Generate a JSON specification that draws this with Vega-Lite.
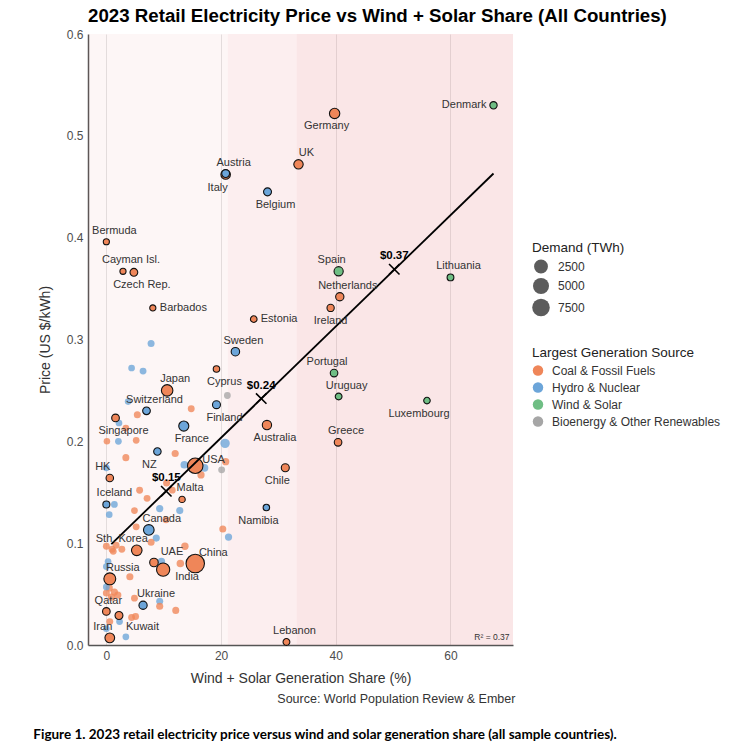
{
  "$schema": "https://vega.github.io/schema/vega-lite/v6.json",
  "background": "white",
  "padding": {"left": 33, "top": 7, "right": 5, "bottom": 5},
  "config": {
    "font": "Liberation Sans",
    "view": {"stroke": null},
    "axis": {
      "labelFont": "Liberation Sans",
      "labelFontSize": 12,
      "labelColor": "#4d4d4d",
      "titleFont": "Liberation Sans",
      "titleFontSize": 14,
      "titleFontWeight": "normal",
      "titleColor": "#333333",
      "ticks": false,
      "domainColor": "#555555",
      "domainWidth": 1.5,
      "gridColor": "#dddddd",
      "gridWidth": 0.8,
      "labelPadding": 5
    },
    "legend": {
      "titleFont": "Liberation Sans",
      "titleFontSize": 13.5,
      "titleFontWeight": "normal",
      "titleColor": "#222222",
      "labelFont": "Liberation Sans",
      "labelFontSize": 12,
      "labelColor": "#333333",
      "labelLimit": 300
    }
  },
  "datasets": {
    "bands": [
      {"share": -3.2, "share_end": 21.2, "band": "low"},
      {"share": 21.2, "share_end": 33.2, "band": "mid"},
      {"share": 33.2, "share_end": 70.9, "band": "high"}
    ],
    "fit": [
      {"share": 0.87, "price": 0.099},
      {"share": 67.5, "price": 0.463}
    ],
    "steps": [
      {"share": 10.45, "price": 0.151, "label": "$0.15"},
      {"share": 27.0, "price": 0.242, "label": "$0.24"},
      {"share": 50.2, "price": 0.369, "label": "$0.37"}
    ],
    "note": [
      {"share": 70.3, "price": 0.003, "label": "R² = 0.37"}
    ],
    "countries": [
      {"share": 7.8, "price": 0.296, "demand": 20, "source": "Hydro & Nuclear"},
      {"share": 4.4, "price": 0.272, "demand": 10, "source": "Hydro & Nuclear"},
      {"share": 6.4, "price": 0.269, "demand": 15, "source": "Hydro & Nuclear"},
      {"share": 21.1, "price": 0.245, "demand": 12, "source": "Bioenergy & Other Renewables"},
      {"share": 14.8, "price": 0.232, "demand": 15, "source": "Coal & Fossil Fuels"},
      {"share": 3.8, "price": 0.239, "demand": 8, "source": "Hydro & Nuclear"},
      {"share": 5.4, "price": 0.226, "demand": 20, "source": "Coal & Fossil Fuels"},
      {"share": 2.2, "price": 0.218, "demand": 10, "source": "Hydro & Nuclear"},
      {"share": 3.4, "price": 0.213, "demand": 12, "source": "Coal & Fossil Fuels"},
      {"share": 0.1, "price": 0.2, "demand": 5, "source": "Coal & Fossil Fuels"},
      {"share": 2.1, "price": 0.2, "demand": 10, "source": "Hydro & Nuclear"},
      {"share": 5.2, "price": 0.201, "demand": 10, "source": "Coal & Fossil Fuels"},
      {"share": 20.7, "price": 0.198, "demand": 300, "source": "Hydro & Nuclear"},
      {"share": 12.0, "price": 0.188, "demand": 25, "source": "Coal & Fossil Fuels"},
      {"share": 3.4, "price": 0.184, "demand": 20, "source": "Coal & Fossil Fuels"},
      {"share": 0.0, "price": 0.174, "demand": 10, "source": "Hydro & Nuclear"},
      {"share": 13.6, "price": 0.177, "demand": 60, "source": "Hydro & Nuclear"},
      {"share": 17.1, "price": 0.174, "demand": 70, "source": "Hydro & Nuclear"},
      {"share": 20.8, "price": 0.18, "demand": 30, "source": "Coal & Fossil Fuels"},
      {"share": 20.1, "price": 0.172, "demand": 15, "source": "Bioenergy & Other Renewables"},
      {"share": 16.5, "price": 0.167, "demand": 30, "source": "Coal & Fossil Fuels"},
      {"share": 10.5, "price": 0.159, "demand": 20, "source": "Coal & Fossil Fuels"},
      {"share": 5.8, "price": 0.152, "demand": 15, "source": "Coal & Fossil Fuels"},
      {"share": 7.1, "price": 0.144, "demand": 15, "source": "Coal & Fossil Fuels"},
      {"share": 11.5, "price": 0.152, "demand": 10, "source": "Coal & Fossil Fuels"},
      {"share": 1.4, "price": 0.138, "demand": 12, "source": "Hydro & Nuclear"},
      {"share": 0.5, "price": 0.128, "demand": 8, "source": "Hydro & Nuclear"},
      {"share": 4.9, "price": 0.132, "demand": 10, "source": "Coal & Fossil Fuels"},
      {"share": 9.3, "price": 0.134, "demand": 30, "source": "Hydro & Nuclear"},
      {"share": 12.8, "price": 0.132, "demand": 25, "source": "Hydro & Nuclear"},
      {"share": 10.4, "price": 0.123, "demand": 15, "source": "Coal & Fossil Fuels"},
      {"share": 20.3, "price": 0.114, "demand": 20, "source": "Coal & Fossil Fuels"},
      {"share": 21.3, "price": 0.106, "demand": 30, "source": "Hydro & Nuclear"},
      {"share": 13.7, "price": 0.097, "demand": 40, "source": "Coal & Fossil Fuels"},
      {"share": 12.9, "price": 0.08, "demand": 50, "source": "Coal & Fossil Fuels"},
      {"share": 14.5, "price": 0.082, "demand": 30, "source": "Hydro & Nuclear"},
      {"share": 16.2, "price": 0.077, "demand": 60, "source": "Coal & Fossil Fuels"},
      {"share": 8.7, "price": 0.105, "demand": 25, "source": "Hydro & Nuclear"},
      {"share": 7.8, "price": 0.101, "demand": 20, "source": "Coal & Fossil Fuels"},
      {"share": 9.6, "price": 0.082, "demand": 40, "source": "Hydro & Nuclear"},
      {"share": 1.0, "price": 0.094, "demand": 20, "source": "Coal & Fossil Fuels"},
      {"share": 2.7, "price": 0.094, "demand": 15, "source": "Coal & Fossil Fuels"},
      {"share": 0.0, "price": 0.097, "demand": 15, "source": "Coal & Fossil Fuels"},
      {"share": 0.3, "price": 0.082, "demand": 10, "source": "Hydro & Nuclear"},
      {"share": 4.1, "price": 0.067, "demand": 25, "source": "Coal & Fossil Fuels"},
      {"share": 0.5, "price": 0.056, "demand": 30, "source": "Coal & Fossil Fuels"},
      {"share": 1.4, "price": 0.052, "demand": 30, "source": "Coal & Fossil Fuels"},
      {"share": 0.9, "price": 0.047, "demand": 40, "source": "Coal & Fossil Fuels"},
      {"share": 2.0, "price": 0.049, "demand": 25, "source": "Coal & Fossil Fuels"},
      {"share": 0.0, "price": 0.051, "demand": 20, "source": "Coal & Fossil Fuels"},
      {"share": 0.0, "price": 0.057, "demand": 10, "source": "Hydro & Nuclear"},
      {"share": 4.9, "price": 0.046, "demand": 15, "source": "Coal & Fossil Fuels"},
      {"share": 9.3, "price": 0.043, "demand": 20, "source": "Hydro & Nuclear"},
      {"share": 9.3, "price": 0.038, "demand": 25, "source": "Coal & Fossil Fuels"},
      {"share": 12.1, "price": 0.034, "demand": 20, "source": "Coal & Fossil Fuels"},
      {"share": 4.4, "price": 0.027, "demand": 15, "source": "Coal & Fossil Fuels"},
      {"share": 5.1, "price": 0.028, "demand": 15, "source": "Coal & Fossil Fuels"},
      {"share": 2.3, "price": 0.023, "demand": 10, "source": "Hydro & Nuclear"},
      {"share": 3.4, "price": 0.008, "demand": 10, "source": "Hydro & Nuclear"},
      {"share": 0.0, "price": 0.016, "demand": 8, "source": "Hydro & Nuclear"},
      {"share": 0.0, "price": 0.077, "demand": 10, "source": "Hydro & Nuclear"},
      {"share": 5.2, "price": 0.116, "demand": 15, "source": "Coal & Fossil Fuels"},
      {"share": 0.6, "price": 0.023, "demand": 15, "source": "Coal & Fossil Fuels"},
      {"share": 1.2, "price": 0.092, "demand": 15, "source": "Coal & Fossil Fuels"},
      {"share": 1.7, "price": 0.098, "demand": 15, "source": "Coal & Fossil Fuels"},
      {"country": "Denmark", "share": 67.5, "price": 0.53, "demand": 35, "source": "Wind & Solar", "pos": "l"},
      {"country": "Germany", "share": 39.8, "price": 0.522, "demand": 525, "source": "Coal & Fossil Fuels", "pos": "bl"},
      {"country": "UK", "share": 33.5, "price": 0.472, "demand": 290, "source": "Coal & Fossil Fuels", "pos": "tr"},
      {"country": "Italy", "share": 20.8, "price": 0.462, "demand": 315, "source": "Coal & Fossil Fuels", "pos": "bl"},
      {"country": "Austria", "share": 20.8, "price": 0.463, "demand": 72, "source": "Hydro & Nuclear", "pos": "tr"},
      {"country": "Belgium", "share": 28.1, "price": 0.445, "demand": 82, "source": "Hydro & Nuclear", "pos": "br"},
      {"country": "Bermuda", "share": 0.0, "price": 0.396, "demand": 0.6, "source": "Coal & Fossil Fuels", "pos": "tr"},
      {"country": "Cayman Isl.", "share": 2.9, "price": 0.367, "demand": 0.7, "source": "Coal & Fossil Fuels", "pos": "tr"},
      {"country": "Czech Rep.", "share": 4.8, "price": 0.366, "demand": 65, "source": "Coal & Fossil Fuels", "pos": "br"},
      {"country": "Barbados", "share": 8.1, "price": 0.331, "demand": 1, "source": "Coal & Fossil Fuels", "pos": "r"},
      {"country": "Estonia", "share": 25.7, "price": 0.32, "demand": 8.5, "source": "Coal & Fossil Fuels", "pos": "r"},
      {"country": "Sweden", "share": 22.5, "price": 0.288, "demand": 135, "source": "Hydro & Nuclear", "pos": "tr"},
      {"country": "Cyprus", "share": 19.2, "price": 0.271, "demand": 5, "source": "Coal & Fossil Fuels", "pos": "br"},
      {"country": "Japan", "share": 10.6, "price": 0.25, "demand": 950, "source": "Coal & Fossil Fuels", "pos": "tr"},
      {"country": "Switzerland", "share": 7.0, "price": 0.23, "demand": 60, "source": "Hydro & Nuclear", "pos": "tr"},
      {"country": "Finland", "share": 19.2, "price": 0.236, "demand": 83, "source": "Hydro & Nuclear", "pos": "br"},
      {"country": "Singapore", "share": 1.6, "price": 0.223, "demand": 57, "source": "Coal & Fossil Fuels", "pos": "br"},
      {"country": "France", "share": 13.5, "price": 0.215, "demand": 450, "source": "Hydro & Nuclear", "pos": "br"},
      {"country": "Australia", "share": 28.0, "price": 0.216, "demand": 265, "source": "Coal & Fossil Fuels", "pos": "br"},
      {"country": "Greece", "share": 40.4, "price": 0.199, "demand": 53, "source": "Coal & Fossil Fuels", "pos": "tr"},
      {"country": "Luxembourg", "share": 55.9, "price": 0.24, "demand": 6.5, "source": "Wind & Solar", "pos": "bl"},
      {"country": "Uruguay", "share": 40.5, "price": 0.244, "demand": 12, "source": "Wind & Solar", "pos": "tr"},
      {"country": "Portugal", "share": 39.7, "price": 0.267, "demand": 51, "source": "Wind & Solar", "pos": "tl"},
      {"country": "Spain", "share": 40.5, "price": 0.367, "demand": 250, "source": "Wind & Solar", "pos": "tl"},
      {"country": "Netherlands", "share": 40.7, "price": 0.342, "demand": 115, "source": "Coal & Fossil Fuels", "pos": "tr"},
      {"country": "Ireland", "share": 39.1, "price": 0.331, "demand": 33, "source": "Coal & Fossil Fuels", "pos": "b"},
      {"country": "Lithuania", "share": 60.0, "price": 0.361, "demand": 13, "source": "Wind & Solar", "pos": "tr"},
      {"country": "Chile", "share": 31.2, "price": 0.174, "demand": 87, "source": "Coal & Fossil Fuels", "pos": "bl"},
      {"country": "Namibia", "share": 27.9, "price": 0.135, "demand": 4.5, "source": "Hydro & Nuclear", "pos": "bl"},
      {"country": "Lebanon", "share": 31.4, "price": 0.003, "demand": 14, "source": "Coal & Fossil Fuels", "pos": "tr"},
      {"country": "USA", "share": 15.5, "price": 0.176, "demand": 4250, "source": "Coal & Fossil Fuels", "pos": "ur"},
      {"country": "NZ", "share": 8.9, "price": 0.19, "demand": 44, "source": "Hydro & Nuclear", "pos": "bl"},
      {"country": "HK", "share": 0.6, "price": 0.164, "demand": 46, "source": "Coal & Fossil Fuels", "pos": "tl"},
      {"country": "Malta", "share": 13.2, "price": 0.143, "demand": 3, "source": "Coal & Fossil Fuels", "pos": "tr"},
      {"country": "Iceland", "share": 0.0, "price": 0.138, "demand": 20, "source": "Hydro & Nuclear", "pos": "tr"},
      {"country": "Canada", "share": 7.4, "price": 0.113, "demand": 615, "source": "Hydro & Nuclear", "pos": "tr2"},
      {"country": "Sth. Korea", "share": 5.3, "price": 0.093, "demand": 600, "source": "Coal & Fossil Fuels", "pos": "tl2"},
      {"country": "UAE", "share": 8.3, "price": 0.081, "demand": 150, "source": "Coal & Fossil Fuels", "pos": "tr3"},
      {"country": "China", "share": 15.5, "price": 0.08, "demand": 9400, "source": "Coal & Fossil Fuels", "pos": "tr3"},
      {"country": "India", "share": 9.9, "price": 0.074, "demand": 1950, "source": "Coal & Fossil Fuels", "pos": "rr"},
      {"country": "Russia", "share": 0.6, "price": 0.065, "demand": 1150, "source": "Coal & Fossil Fuels", "pos": "tr2"},
      {"country": "Ukraine", "share": 6.4, "price": 0.039, "demand": 110, "source": "Hydro & Nuclear", "pos": "tr2"},
      {"country": "Qatar", "share": 0.0, "price": 0.033, "demand": 55, "source": "Coal & Fossil Fuels", "pos": "t"},
      {"country": "Kuwait", "share": 2.2, "price": 0.029, "demand": 78, "source": "Coal & Fossil Fuels", "pos": "dr"},
      {"country": "Iran", "share": 0.6, "price": 0.007, "demand": 360, "source": "Coal & Fossil Fuels", "pos": "tl"}
    ]
  },
  "title": {
    "text": "Figure 1. 2023 retail electricity price versus wind and solar generation share (all sample countries).",
    "orient": "bottom",
    "anchor": "start",
    "frame": "bounds",
    "font": "Lato",
    "fontWeight": "bold",
    "fontSize": 13.5,
    "color": "#000000",
    "offset": 22,
    "dx": -5
  },
  "resolve": {"legend": {"color": "independent", "size": "independent"}},
  "vconcat": [
    {
      "title": {
        "text": "Source: World Population Review & Ember",
        "orient": "bottom",
        "anchor": "start",
        "frame": "bounds",
        "font": "Liberation Sans",
        "fontWeight": "normal",
        "fontSize": 12.5,
        "color": "#333333",
        "offset": 8,
        "dx": 239
      },
      "resolve": {"legend": {"color": "independent", "size": "independent"}},
      "vconcat": [
        {
          "title": {
            "text": "2023 Retail Electricity Price vs Wind + Solar Share (All Countries)",
            "font": "Liberation Sans",
            "fontWeight": "bold",
            "fontSize": 18.7,
            "color": "#000000",
            "anchor": "start",
            "frame": "group",
            "offset": 2
          },
          "width": 425,
          "height": 611,
          "layer": [
            {
              "data": {"name": "bands"},
              "mark": {"type": "rect", "fill": "#E3636B"},
              "encoding": {
                "x": {
                  "field": "share",
                  "type": "quantitative",
                  "scale": {"domain": [-3.2, 70.9], "nice": false, "zero": false},
                  "axis": {"values": [0, 20, 40, 60], "title": "Wind + Solar Generation Share (%)", "titlePadding": 10}
                },
                "x2": {"field": "share_end"},
                "y": {
                  "datum": 0,
                  "type": "quantitative",
                  "scale": {"domain": [0, 0.6], "nice": false, "zero": false},
                  "axis": {"values": [0, 0.1, 0.2, 0.3, 0.4, 0.5, 0.6], "format": ".1f", "title": "Price (US $/kWh)", "titlePadding": 14}
                },
                "y2": {"datum": 0.6},
                "opacity": {
                  "field": "band",
                  "type": "nominal",
                  "scale": {"domain": ["low", "mid", "high"], "range": [0.06, 0.16, 0.3]},
                  "legend": null
                }
              }
            },
            {
              "data": {"name": "countries"},
              "transform": [{"filter": "!datum.country"}],
              "mark": {"type": "circle", "opacity": 0.78},
              "encoding": {
                "x": {"field": "share", "type": "quantitative"},
                "y": {"field": "price", "type": "quantitative"},
                "color": {
                  "field": "source",
                  "type": "nominal",
                  "title": "Largest Generation Source",
                  "scale": {
                    "domain": ["Coal & Fossil Fuels", "Hydro & Nuclear", "Wind & Solar", "Bioenergy & Other Renewables"],
                    "range": ["#EF8659", "#6CA5D9", "#6FBE84", "#A6A6A6"]
                  },
                  "legend": {
                    "orient": "none", "legendX": 444, "legendY": 312,
                    "symbolType": "circle", "symbolSize": 110, "symbolStrokeWidth": 0, "symbolOpacity": 1,
                    "rowPadding": 5, "labelOffset": 8
                  }
                },
                "size": {
                  "field": "demand",
                  "type": "quantitative",
                  "title": "Demand (TWh)",
                  "scale": {"type": "sqrt", "domain": [0, 9400], "range": [35, 340]},
                  "legend": {
                    "orient": "none", "legendX": 444, "legendY": 207,
                    "values": [2500, 5000, 7500], "format": "d",
                    "symbolFillColor": "#5c5c5c", "symbolStrokeColor": "#5c5c5c", "symbolStrokeWidth": 0, "symbolOpacity": 1,
                    "rowPadding": 4, "labelOffset": 8
                  }
                }
              }
            },
            {
              "data": {"name": "countries"},
              "transform": [{"filter": "datum.country"}],
              "mark": {"type": "circle", "opacity": 1, "stroke": "#111111", "strokeWidth": 1.1},
              "encoding": {
                "x": {"field": "share", "type": "quantitative"},
                "y": {"field": "price", "type": "quantitative"},
                "color": {
                  "field": "source",
                  "type": "nominal",
                  "title": "Largest Generation Source",
                  "legend": {
                    "orient": "none", "legendX": 444, "legendY": 312,
                    "symbolType": "circle", "symbolSize": 110, "symbolStrokeWidth": 0, "symbolOpacity": 1,
                    "rowPadding": 5, "labelOffset": 8
                  }
                },
                "size": {
                  "field": "demand",
                  "type": "quantitative",
                  "title": "Demand (TWh)",
                  "legend": {
                    "orient": "none", "legendX": 444, "legendY": 207,
                    "values": [2500, 5000, 7500], "format": "d",
                    "symbolFillColor": "#5c5c5c", "symbolStrokeColor": "#5c5c5c", "symbolStrokeWidth": 0, "symbolOpacity": 1,
                    "rowPadding": 4, "labelOffset": 8
                  }
                }
              }
            },
            {
              "data": {"name": "fit"},
              "mark": {"type": "line", "color": "#000000", "strokeWidth": 1.8},
              "encoding": {
                "x": {"field": "share", "type": "quantitative"},
                "y": {"field": "price", "type": "quantitative"}
              }
            },
            {
              "data": {"name": "steps"},
              "mark": {"type": "point", "shape": "M-1,-1L1,1M-1,1L1,-1", "filled": false, "stroke": "#000000", "strokeWidth": 1.6, "size": 110, "opacity": 1},
              "encoding": {
                "x": {"field": "share", "type": "quantitative"},
                "y": {"field": "price", "type": "quantitative"}
              }
            },
            {
              "data": {"name": "steps"},
              "mark": {"type": "text", "fontWeight": "bold", "fontSize": 11.5, "color": "#000000", "dy": -13},
              "encoding": {
                "x": {"field": "share", "type": "quantitative"},
                "y": {"field": "price", "type": "quantitative"},
                "text": {"field": "label"}
              }
            },
            {
              "data": {"name": "note"},
              "mark": {"type": "text", "fontSize": 8.5, "color": "#333333", "align": "right", "baseline": "bottom"},
              "encoding": {
                "x": {"field": "share", "type": "quantitative"},
                "y": {"field": "price", "type": "quantitative"},
                "text": {"field": "label"}
              }
            },
            {
              "data": {"name": "countries"},
              "transform": [{"filter": "datum.pos === 'l'"}],
              "mark": {"type": "text", "fontSize": 11, "color": "#333333", "align": "right", "dx": -7},
              "encoding": {"x": {"field": "share", "type": "quantitative"}, "y": {"field": "price", "type": "quantitative"}, "text": {"field": "country"}}
            },
            {
              "data": {"name": "countries"},
              "transform": [{"filter": "datum.pos === 'r'"}],
              "mark": {"type": "text", "fontSize": 11, "color": "#333333", "align": "left", "dx": 7},
              "encoding": {"x": {"field": "share", "type": "quantitative"}, "y": {"field": "price", "type": "quantitative"}, "text": {"field": "country"}}
            },
            {
              "data": {"name": "countries"},
              "transform": [{"filter": "datum.pos === 't'"}],
              "mark": {"type": "text", "fontSize": 11, "color": "#333333", "dx": 2, "dy": -10},
              "encoding": {"x": {"field": "share", "type": "quantitative"}, "y": {"field": "price", "type": "quantitative"}, "text": {"field": "country"}}
            },
            {
              "data": {"name": "countries"},
              "transform": [{"filter": "datum.pos === 'b'"}],
              "mark": {"type": "text", "fontSize": 11, "color": "#333333", "dy": 13},
              "encoding": {"x": {"field": "share", "type": "quantitative"}, "y": {"field": "price", "type": "quantitative"}, "text": {"field": "country"}}
            },
            {
              "data": {"name": "countries"},
              "transform": [{"filter": "datum.pos === 'tr'"}],
              "mark": {"type": "text", "fontSize": 11, "color": "#333333", "dx": 8, "dy": -11},
              "encoding": {"x": {"field": "share", "type": "quantitative"}, "y": {"field": "price", "type": "quantitative"}, "text": {"field": "country"}}
            },
            {
              "data": {"name": "countries"},
              "transform": [{"filter": "datum.pos === 'tr2'"}],
              "mark": {"type": "text", "fontSize": 11, "color": "#333333", "dx": 13, "dy": -11},
              "encoding": {"x": {"field": "share", "type": "quantitative"}, "y": {"field": "price", "type": "quantitative"}, "text": {"field": "country"}}
            },
            {
              "data": {"name": "countries"},
              "transform": [{"filter": "datum.pos === 'tr3'"}],
              "mark": {"type": "text", "fontSize": 11, "color": "#333333", "dx": 18, "dy": -11},
              "encoding": {"x": {"field": "share", "type": "quantitative"}, "y": {"field": "price", "type": "quantitative"}, "text": {"field": "country"}}
            },
            {
              "data": {"name": "countries"},
              "transform": [{"filter": "datum.pos === 'tl'"}],
              "mark": {"type": "text", "fontSize": 11, "color": "#333333", "dx": -7, "dy": -11},
              "encoding": {"x": {"field": "share", "type": "quantitative"}, "y": {"field": "price", "type": "quantitative"}, "text": {"field": "country"}}
            },
            {
              "data": {"name": "countries"},
              "transform": [{"filter": "datum.pos === 'tl2'"}],
              "mark": {"type": "text", "fontSize": 11, "color": "#333333", "dx": -15, "dy": -11},
              "encoding": {"x": {"field": "share", "type": "quantitative"}, "y": {"field": "price", "type": "quantitative"}, "text": {"field": "country"}}
            },
            {
              "data": {"name": "countries"},
              "transform": [{"filter": "datum.pos === 'br'"}],
              "mark": {"type": "text", "fontSize": 11, "color": "#333333", "dx": 8, "dy": 13},
              "encoding": {"x": {"field": "share", "type": "quantitative"}, "y": {"field": "price", "type": "quantitative"}, "text": {"field": "country"}}
            },
            {
              "data": {"name": "countries"},
              "transform": [{"filter": "datum.pos === 'bl'"}],
              "mark": {"type": "text", "fontSize": 11, "color": "#333333", "dx": -8, "dy": 13},
              "encoding": {"x": {"field": "share", "type": "quantitative"}, "y": {"field": "price", "type": "quantitative"}, "text": {"field": "country"}}
            },
            {
              "data": {"name": "countries"},
              "transform": [{"filter": "datum.pos === 'ur'"}],
              "mark": {"type": "text", "fontSize": 11, "color": "#333333", "align": "left", "dx": 7, "dy": -6},
              "encoding": {"x": {"field": "share", "type": "quantitative"}, "y": {"field": "price", "type": "quantitative"}, "text": {"field": "country"}}
            },
            {
              "data": {"name": "countries"},
              "transform": [{"filter": "datum.pos === 'rr'"}],
              "mark": {"type": "text", "fontSize": 11, "color": "#333333", "align": "left", "dx": 12, "dy": 7},
              "encoding": {"x": {"field": "share", "type": "quantitative"}, "y": {"field": "price", "type": "quantitative"}, "text": {"field": "country"}}
            },
            {
              "data": {"name": "countries"},
              "transform": [{"filter": "datum.pos === 'dr'"}],
              "mark": {"type": "text", "fontSize": 11, "color": "#333333", "align": "left", "dx": 7, "dy": 12},
              "encoding": {"x": {"field": "share", "type": "quantitative"}, "y": {"field": "price", "type": "quantitative"}, "text": {"field": "country"}}
            }
          ]
        }
      ]
    }
  ]
}
